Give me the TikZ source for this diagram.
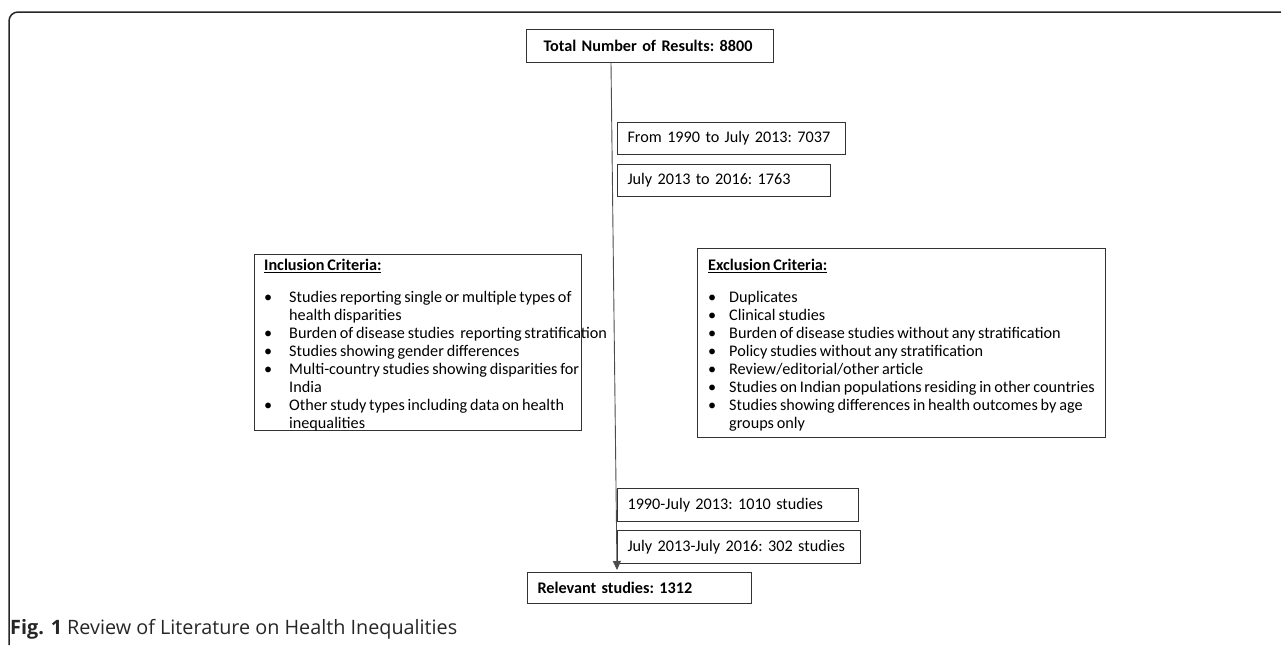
\documentclass[tikz,border=0pt]{standalone}
\usepackage{fontspec}
\setmainfont{Carlito}[WordSpace=0.78]
\newfontfamily\capfont{Open Sans}
\usetikzlibrary{arrows.meta,calc}
\tikzset{
  box/.style={draw=black!80, line width=1.1pt, anchor=north west, inner sep=0pt},
  onebox/.style={box, inner xsep=10pt, align=left, font=\frenchspacing\fontsize{16.2}{19.5}\selectfont},
  listtext/.style={anchor=north west, inner sep=0pt, align=left, font=\frenchspacing\fontsize{16.2}{18}\selectfont},
  flow/.style={draw=black!70, line width=0.9pt, -{Triangle[length=9pt,width=8pt]}},
}
\newcommand{\blt}{\makebox[25pt][l]{\textbullet}}
\newcommand{\cnt}{\hspace*{25pt}}
\newcommand{\bltx}{\makebox[21pt][l]{\textbullet}}
\newcommand{\cntx}{\hspace*{21pt}}
\begin{document}
\begin{tikzpicture}[x=1pt,y=-1pt]
\useasboundingbox (0,0) rectangle (1281,645);
% outer frame
\draw[line width=1.5pt, black!85, rounded corners=9pt] (9,645) -- (9,12) -- (1285,12);
% top box
\node[onebox, text width=213pt, minimum height=33pt, inner xsep=17pt, font=\frenchspacing\bfseries\fontsize{16.2}{19.5}\selectfont] (top) at (526,29) {Total Number of Results: 8800};
% side boxes
\node[onebox, text width=208pt, minimum height=32pt] (a) at (617,122) {From 1990 to July 2013: 7037};
\node[onebox, text width=193pt, minimum height=32pt] (b) at (617,164) {July 2013 to 2016: 1763};
\node[onebox, text width=221pt, minimum height=33pt] (c) at (617,488) {1990-July 2013: 1010 studies};
\node[onebox, text width=223pt, minimum height=33pt] (d) at (617,530) {July 2013-July 2016: 302 studies};
% bottom box
\node[onebox, text width=204pt, minimum height=31pt, font=\frenchspacing\bfseries\fontsize{16.2}{19.5}\selectfont] (bot) at (527,572) {Relevant studies: 1312};
% inclusion
\node[box, minimum width=327pt, minimum height=176pt] (incl) at (254,254) {};
\node[listtext] (incltxt) at ($(incl.north west)+(10,5)$) {%
\textbf{\underline{Inclusion Criteria:}}\\[14pt]
\blt Studies reporting single or multiple types of\\
\cnt health disparities\\
\blt Burden of disease studies\ \ reporting stratification\\
\blt Studies showing gender differences\\
\blt Multi-country studies showing disparities for\\
\cnt India\\
\blt Other study types including data on health\\
\cnt inequalities};
% exclusion
\node[box, minimum width=408pt, minimum height=189pt] (excl) at (697,248) {};
\node[listtext] (excltxt) at ($(excl.north west)+(11,11)$) {%
\textbf{\underline{Exclusion Criteria:}}\\[14pt]
\bltx Duplicates\\
\bltx Clinical studies\\
\bltx Burden of disease studies without any stratification\\
\bltx Policy studies without any stratification\\
\bltx Review/editorial/other article\\
\bltx Studies on Indian populations residing in other countries\\
\bltx Studies showing differences in health outcomes by age\\
\cntx groups only};
% arrow
\coordinate (s) at ($(top.south west)+(85,0)$);
\coordinate (e) at ($(bot.north west)+(90,-2)$);
\draw[flow] (s) -- (e);
% caption
\node[anchor=base west, inner sep=0pt, font=\capfont\fontsize{19.8}{22}\selectfont, text=black!85] (cap) at (10,634) {\textbf{Fig. 1} Review of Literature on Health Inequalities};
\end{tikzpicture}
\end{document}
